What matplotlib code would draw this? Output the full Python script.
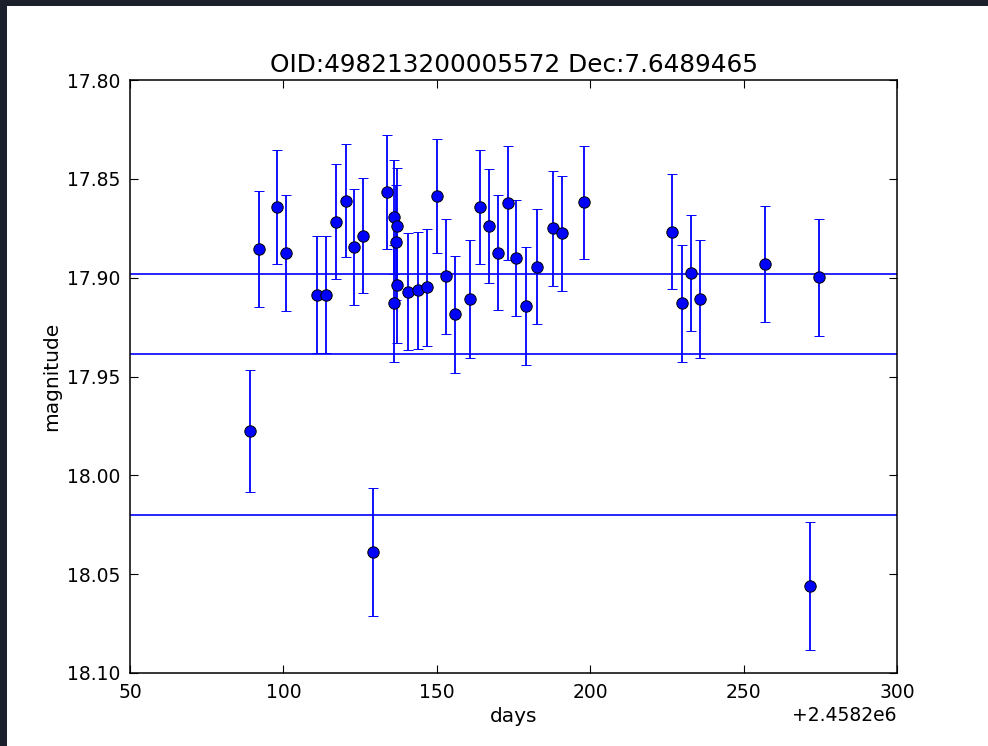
import numpy as np
import matplotlib
matplotlib.use('Agg')
import matplotlib.pyplot as plt
from matplotlib.ticker import MultipleLocator, ScalarFormatter
from matplotlib.patches import Rectangle

plt.rcParams['font.family'] = 'DejaVu Sans'

# light curve of one object, days are relative to JD 2458200
jd_offset = 2458200
days = [89.1, 92.1, 98.0, 100.9, 110.85, 113.8, 117.05, 120.3, 123.0, 125.85,
        129.1, 133.9, 136.05, 137.1, 136.7, 137.1, 136.05, 140.7, 144.0, 146.9,
        150.0, 152.9, 156.0, 160.9, 164.1, 167.0, 169.8, 173.05, 175.8, 179.2,
        182.75, 188.0, 190.9, 198.1, 226.7, 229.9, 232.75, 235.9, 257.0, 271.7,
        274.7]
mag = [17.9776, 17.8855, 17.8642, 17.8875, 17.9086, 17.9086, 17.8717, 17.8611, 17.8843, 17.8788,
       18.0389, 17.8567, 17.8693, 17.8737, 17.8820, 17.9037, 17.9130, 17.9071, 17.9064, 17.9049,
       17.8587, 17.8993, 17.9185, 17.9108, 17.8642, 17.8737, 17.8874, 17.8624, 17.8899, 17.9143,
       17.8945, 17.8749, 17.8776, 17.8619, 17.8767, 17.9130, 17.8975, 17.9106, 17.8931, 18.0560,
       17.8998]
mag_err = [0.0310, 0.0291, 0.0288, 0.0293, 0.0296, 0.0296, 0.0292, 0.0285, 0.0293, 0.0291,
           0.0323, 0.0287, 0.0290, 0.0290, 0.0291, 0.0295, 0.0297, 0.0296, 0.0296, 0.0295,
           0.0287, 0.0290, 0.0297, 0.0297, 0.0288, 0.0288, 0.0290, 0.0289, 0.0293, 0.0299,
           0.0291, 0.0291, 0.0292, 0.0287, 0.0291, 0.0297, 0.0294, 0.0298, 0.0292, 0.0324,
           0.0295]
# reference levels drawn across the plot
levels = [17.8981, 17.9386, 18.0201]

title = 'OID:498213200005572 Dec:7.6489465'

fig = plt.figure(figsize=(9.88, 7.46), dpi=100, facecolor='#1b202c')
# white page inside the dark screenshot frame
fig.patches.append(Rectangle((7/988, 0), 1 - 7/988, 1 - 6/746,
                             transform=fig.transFigure, facecolor='white',
                             edgecolor='none', zorder=-1))
ax = fig.add_axes([130/988, 1 - 673/746, 767/988, 593/746])

x = np.asarray(days) + jd_offset
for lev in levels:
    ax.axhline(lev, color='b', lw=1.2, zorder=1)

ax.errorbar(x, mag, yerr=mag_err, fmt='o', color='b', ecolor='b',
            markersize=8.2, mec='k', mew=0.7, elinewidth=1.3,
            capsize=3.4, capthick=1.2, zorder=2)

ax.set_xlim(jd_offset + 50, jd_offset + 300)
ax.set_ylim(18.10, 17.80)
ax.xaxis.set_major_locator(MultipleLocator(50))
ax.yaxis.set_major_locator(MultipleLocator(0.05))
ax.xaxis.set_major_formatter(ScalarFormatter(useOffset=jd_offset))
fmt = ScalarFormatter(useOffset=False)
ax.yaxis.set_major_formatter(fmt)
ax.xaxis.get_offset_text().set_fontsize(13.5)

ax.tick_params(direction='in', top=True, right=True, length=6, width=0.8,
               labelsize=13.5, pad=7)
for s in ax.spines.values():
    s.set_linewidth(1.1)

ax.set_xlabel('days', fontsize=14.5)
ax.set_ylabel('magnitude', fontsize=14.5)
ax.set_title(title, fontsize=17.8)

plt.savefig('out.png', dpi=100, facecolor=fig.get_facecolor())
